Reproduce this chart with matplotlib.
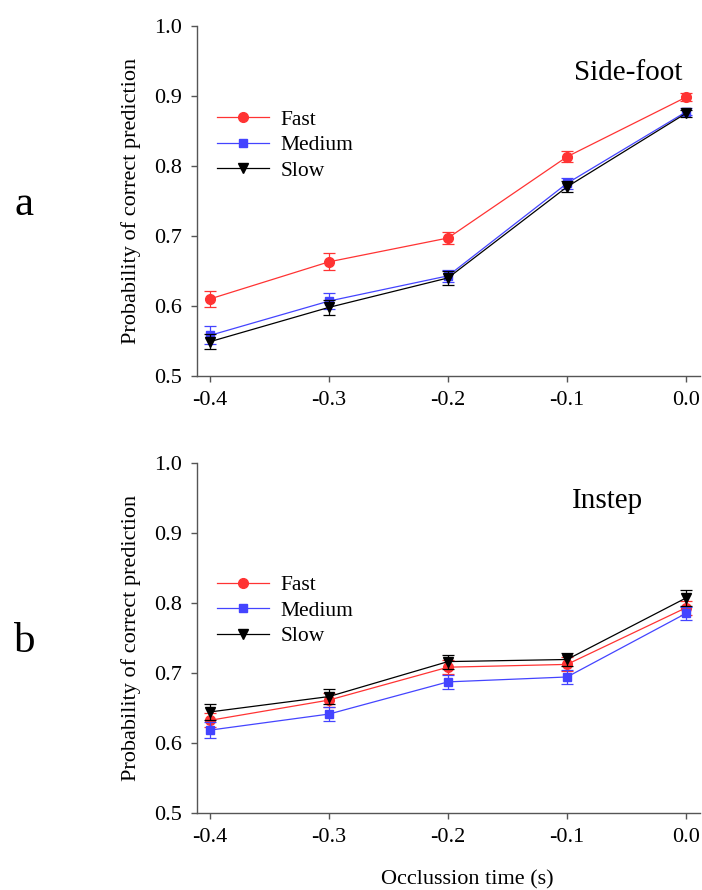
import matplotlib
matplotlib.use("Agg")
import matplotlib.pyplot as plt
import numpy as np

plt.rcParams["font.family"] = ["Liberation Serif", "DejaVu Serif"]

# occlusion times (s)
occlusion = [-0.4, -0.3, -0.2, -0.1, 0.0]
speeds = ["Fast", "Medium", "Slow"]

# panel a: side-foot kicks
side_fast = [0.610, 0.663, 0.697, 0.813, 0.898]
side_fast_err = [0.012, 0.012, 0.009, 0.008, 0.006]
side_medium = [0.558, 0.607, 0.643, 0.775, 0.877]
side_medium_err = [0.013, 0.011, 0.009, 0.008, 0.005]
side_slow = [0.549, 0.598, 0.640, 0.770, 0.875]
side_slow_err = [0.011, 0.011, 0.010, 0.008, 0.005]

# panel b: instep kicks
instep_fast = [0.632, 0.661, 0.708, 0.712, 0.793]
instep_fast_err = [0.010, 0.010, 0.010, 0.010, 0.010]
instep_medium = [0.618, 0.641, 0.687, 0.694, 0.785]
instep_medium_err = [0.011, 0.010, 0.010, 0.010, 0.009]
instep_slow = [0.644, 0.666, 0.716, 0.719, 0.807]
instep_slow_err = [0.011, 0.011, 0.010, 0.010, 0.011]

colors = {"Fast": "#ff3333", "Medium": "#4444ff", "Slow": "black"}
markers = {"Fast": "o", "Medium": "s", "Slow": "v"}
msizes = {"Fast": 7, "Medium": 6, "Slow": 7}

fig = plt.figure(figsize=(7.02, 8.90), dpi=100)
ax_a = fig.add_axes([0.2813, 0.5775, 0.716, 0.3936])
ax_b = fig.add_axes([0.2813, 0.0869, 0.716, 0.3929])

panels = [
    (ax_a, [side_fast, side_medium, side_slow],
     [side_fast_err, side_medium_err, side_slow_err], "Side-foot", 0.749, 0.845, 0.760),
    (ax_b, [instep_fast, instep_medium, instep_slow],
     [instep_fast_err, instep_medium_err, instep_slow_err], "Instep", 0.745, 0.871, 0.679),
]

for ax, vals, errs, title, tx, ty, ly in panels:
    handles = []
    for name, v, e in zip(speeds, vals, errs):
        c = colors[name]
        ax.errorbar(occlusion, v, yerr=e, fmt="none", ecolor=c, elinewidth=0.9,
                    capsize=4, capthick=0.9)
        (h,) = ax.plot(occlusion, v, "-", color=c, lw=0.9, marker=markers[name],
                       ms=msizes[name], mec=c, mfc=c, label=name)
        handles.append(h)
    ax.set_xlim(-0.4105, 0.0118)
    ax.set_ylim(0.5, 1.0)
    ax.set_xticks(occlusion)
    ax.set_xticklabels(["-0.4", "-0.3", "-0.2", "-0.1", "0.0"])
    ax.set_yticks([0.5, 0.6, 0.7, 0.8, 0.9, 1.0])
    for s in ["top", "right"]:
        ax.spines[s].set_visible(False)
    for s in ["left", "bottom"]:
        ax.spines[s].set_color("#555555")
        ax.spines[s].set_linewidth(1.0)
    ax.tick_params(direction="out", length=4, width=1.0, color="#555555",
                   labelsize=16, pad=7)
    ax.set_ylabel("Probability of correct prediction", fontsize=16)
    ax.yaxis.set_label_coords(-0.112, 0.5)
    ax.text(tx, ty, title, transform=ax.transAxes, fontsize=21, ha="left",
            va="baseline")
    ax.legend(handles=handles, loc="upper left", bbox_to_anchor=(0.039, ly),
              frameon=False, fontsize=15.5, handlelength=2.4, handletextpad=0.55,
              labelspacing=0.25, borderpad=0, borderaxespad=0)

ax_b.set_xlabel("Occlussion time (s)", fontsize=16)
ax_b.xaxis.set_label_coords(0.536, -0.165)

fig.text(24 / 702, 1 - 215 / 890, "a", fontsize=31, ha="center", va="baseline")
fig.text(25 / 702, 1 - 652 / 890, "b", fontsize=31, ha="center", va="baseline")

plt.savefig("out.png", dpi=100)
